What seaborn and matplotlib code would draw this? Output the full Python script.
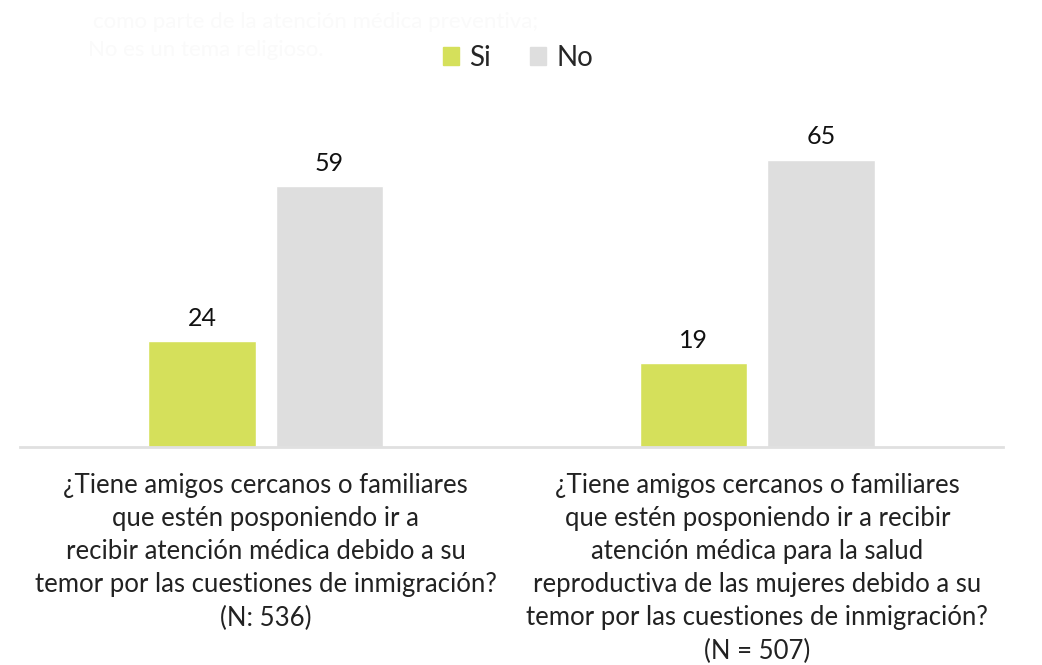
import matplotlib
matplotlib.use("Agg")
import matplotlib.pyplot as plt
import pandas as pd
import seaborn as sns

# ---------------------------------------------------------------------------
# Data
# ---------------------------------------------------------------------------
questions = [
    "¿Tiene amigos cercanos o familiares\nque estén posponiendo ir a\n"
    "recibir atención médica debido a su\n"
    "temor por las cuestiones de inmigración?\n(N: 536)",
    "¿Tiene amigos cercanos o familiares\nque estén posponiendo ir a recibir\n"
    "atención médica para la salud\nreproductiva de las mujeres debido a su\n"
    "temor por las cuestiones de inmigración?\n(N = 507)",
]
answers = ["Si", "No"]
si_values = [24, 19]
no_values = [59, 65]
colors = ["#d5e05b", "#dedede"]

df = pd.DataFrame({
    "question": questions * 2,
    "answer": [answers[0]] * 2 + [answers[1]] * 2,
    "value": si_values + no_values,
})

# ---------------------------------------------------------------------------
# Plot
# ---------------------------------------------------------------------------
sns.set_theme(style="white")
plt.rcParams["font.family"] = ["Lato", "DejaVu Sans"]

fig = plt.figure(figsize=(10.42, 6.65), dpi=100)
ax = fig.add_axes([0.0192, 0.3278, 0.9434, 0.4656])

sns.barplot(data=df, x="question", y="value", hue="answer",
            hue_order=answers, palette=colors, width=0.519, gap=0.16,
            saturation=1, ax=ax, legend=False)

for container in ax.containers:
    ax.bar_label(container, fmt="%d", padding=8, fontsize=18,
                 color="#111111")

ax.set_ylim(0, 70)
ax.set_xlim(-0.5, 1.5)
ax.set_yticks([])
ax.set_xlabel("")
ax.set_ylabel("")
for side in ["top", "right", "left"]:
    ax.spines[side].set_visible(False)
ax.spines["bottom"].set_color("#e0e0e0")
ax.spines["bottom"].set_linewidth(2)
ax.tick_params(axis="x", length=0, pad=19)
for lbl in ax.get_xticklabels():
    lbl.set_fontsize(18.5)
    lbl.set_color("#222222")
    lbl.set_linespacing(1.4)
    lbl.set_va("top")

handles = [plt.Rectangle((0, 0), 1, 1, color=c) for c in colors]
fig.legend(handles, answers, loc="center", bbox_to_anchor=(0.497, 0.913),
           ncol=2, frameon=False, fontsize=20, handlelength=0.6,
           handleheight=0.6, handletextpad=0.35, columnspacing=1.4)

# nearly invisible leftover text at the top
fig.text(0.089, 0.982, "como parte de la atención médica preventiva;",
         fontsize=16, color="#fafafa", va="top")
fig.text(0.084, 0.94, "No es un tema religioso.",
         fontsize=16, color="#fafafa", va="top")

fig.savefig("out.png", dpi=100)
plt.close(fig)
